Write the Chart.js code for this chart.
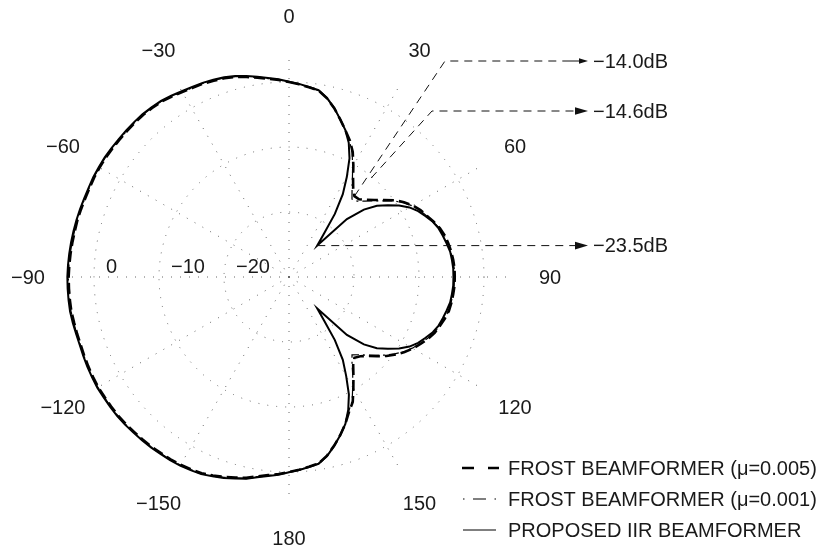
<!DOCTYPE html>
<html><head><meta charset="utf-8">
<script src="https://cdn.jsdelivr.net/npm/chart.js@4.4.1/dist/chart.umd.min.js"></script>
<style>html,body{margin:0;padding:0;background:#fff;}canvas{display:block;}</style>
</head><body>
<canvas id="c" width="823" height="549"></canvas>
<script>
// Angles (degrees, clockwise from top), 3-degree steps
const ANGLES = [0,3,6,9,12,15,18,21,24,27,30,33,36,39,42,45,48,51,54,57,60,63,66,69,72,75,78,81,84,87,
 90,93,96,99,102,105,108,111,114,117,120,123,126,129,132,135,138,141,144,147,150,153,156,159,162,165,168,171,174,177,
 180,183,186,189,192,195,198,201,204,207,210,213,216,219,222,225,228,231,234,237,240,243,246,249,252,255,258,261,264,267,
 270,273,276,279,282,285,288,291,294,297,300,303,306,309,312,315,318,321,324,327,330,333,336,339,342,345,348,351,354,357];

// Beam patterns in dB
const FROST_005 = [
 0.0,-0.3,-0.65,-0.95,-1.9,-3.1,-4.5,-5.8,-7.0,-8.4,
 -10.2,-11.9,-13.2,-14.0,-13.9,-13.2,-12.3,-11.2,-9.9,-8.9,
 -8.0,-7.3,-6.8,-6.2,-5.6,-5.2,-4.95,-4.75,-4.6,-4.5,
 -4.5,-4.5,-4.6,-4.7,-4.85,-5.2,-5.6,-6.0,-6.6,-7.3,
 -8.0,-8.8,-9.7,-10.7,-11.8,-12.8,-13.6,-14.0,-13.2,-11.8,
 -10.2,-8.4,-7.3,-5.8,-4.45,-3.15,-1.9,-0.95,-0.65,-0.3,
 0.0,0.35,0.65,1.05,1.6,1.95,2.35,2.7,3.05,3.2,
 3.35,3.45,3.5,3.6,3.65,3.7,3.8,3.85,3.85,3.85,
 3.9,3.85,3.8,3.75,3.7,3.75,3.8,3.9,3.9,3.9,
 3.9,3.85,3.8,3.75,3.7,3.7,3.65,3.6,3.6,3.65,
 3.65,3.65,3.6,3.55,3.55,3.55,3.55,3.45,3.35,3.1,
 2.85,2.65,2.55,2.35,2.15,1.85,1.45,1.05,0.65,0.35];
const FROST_001 = [
 0.0,-0.3,-0.65,-0.95,-1.9,-3.1,-4.5,-5.8,-7.1,-8.6,
 -10.4,-12.1,-13.5,-14.6,-14.3,-13.5,-12.5,-11.4,-10.1,-9.0,
 -8.1,-7.4,-6.85,-6.25,-5.65,-5.25,-5.0,-4.8,-4.65,-4.55,
 -4.55,-4.55,-4.65,-4.75,-4.9,-5.25,-5.65,-6.05,-6.7,-7.4,
 -8.1,-8.9,-9.9,-10.9,-12.0,-13.0,-13.9,-14.6,-13.5,-12.0,
 -10.4,-8.6,-7.4,-5.85,-4.5,-3.15,-1.9,-0.95,-0.65,-0.3,
 0.0,0.4,0.7,1.1,1.65,2.0,2.4,2.75,3.1,3.25,
 3.4,3.5,3.55,3.65,3.7,3.75,3.85,3.9,3.9,3.9,
 3.95,3.9,3.85,3.8,3.75,3.8,3.85,3.95,3.95,3.95,
 3.95,3.9,3.85,3.8,3.75,3.75,3.7,3.65,3.65,3.7,
 3.7,3.7,3.65,3.6,3.6,3.6,3.6,3.5,3.4,3.15,
 2.9,2.7,2.6,2.4,2.2,1.9,1.5,1.1,0.7,0.4];
const IIR = [
 0.05,-0.25,-0.6,-0.9,-1.85,-3.1,-4.5,-5.8,-7.4,-9.5,
 -12.2,-14.8,-18.0,-21.5,-23.5,-17.4,-14.5,-12.6,-11.2,-9.8,
 -8.6,-7.7,-7.0,-6.3,-5.8,-5.5,-5.2,-4.9,-4.8,-4.7,
 -4.7,-4.7,-4.8,-4.9,-5.2,-5.5,-5.8,-6.3,-7.0,-7.7,
 -8.6,-9.8,-11.2,-12.6,-14.5,-17.4,-23.5,-21.5,-18.0,-14.8,
 -12.4,-9.7,-7.6,-5.8,-4.45,-3.1,-1.85,-0.9,-0.6,-0.25,
 0.05,0.45,0.8,1.2,1.75,2.1,2.5,2.85,3.2,3.35,
 3.5,3.6,3.65,3.75,3.8,3.85,3.95,4.0,4.0,4.0,
 4.05,4.0,3.95,3.9,3.85,3.9,4.0,4.1,4.1,4.1,
 4.1,4.05,4.0,3.95,3.9,3.85,3.8,3.75,3.75,3.8,
 3.8,3.8,3.75,3.7,3.7,3.7,3.7,3.6,3.5,3.25,
 3.0,2.8,2.7,2.5,2.3,2.0,1.6,1.2,0.8,0.45];

const SERIES_NAMES = ['FROST BEAMFORMER (\u03bc=0.005)', 'FROST BEAMFORMER (\u03bc=0.001)', 'PROPOSED IIR BEAMFORMER'];
const RING_TICKS = [0, -10, -20, -30];
const RING_LABELS = [0, -10, -20];
const ANGLE_TICKS = [0, 30, 60, 90, 120, 150, 180, -150, -120, -90, -60, -30];
const NULL_LABELS = ['\u221214.0dB', '\u221214.6dB', '\u221223.5dB'];
const R_MIN = -30, R_MAX = 4;

const FONT = '20px "Liberation Sans", Arial, Helvetica, sans-serif';
const TEXT = '#1a1a1a';
const GRID = '#666666';
function minusify(v) { return v < 0 ? '\u2212' + Math.abs(v) : String(v); }

function arrowHead(ctx, tipX, y, len, half) {
  ctx.beginPath();
  ctx.moveTo(tipX, y);
  ctx.lineTo(tipX - len, y - half);
  ctx.lineTo(tipX - len, y + half);
  ctx.closePath();
  ctx.fill();
}

const polarDecor = {
  id: 'polarDecor',
  afterDraw(chart) {
    const ctx = chart.ctx, s = chart.scales.r;
    const cx = s.xCenter, cy = s.yCenter;
    ctx.save();
    ctx.font = FONT;
    ctx.fillStyle = TEXT;
    ctx.textBaseline = 'middle';
    // radial tick labels along the left horizontal axis
    ctx.textAlign = 'left';
    RING_LABELS.forEach(v => {
      const r = s.getDistanceFromCenterForValue(v);
      ctx.fillText(minusify(v), cx - r + 12, cy - 9.5);
    });
    // angle labels
    ctx.textAlign = 'center';
    const step = 360 / ANGLES.length;
    ANGLE_TICKS.forEach(a => {
      const idx = Math.round(((a + 360) % 360) / step);
      const p = s.getPointPosition(idx, s.drawingArea + 40);
      ctx.fillText(minusify(a), p.x, p.y + 1);
    });

    // annotations
    ctx.strokeStyle = '#111';
    ctx.fillStyle = '#111';
    ctx.lineWidth = 1;
    const headTip = cx + 299, textX = cx + 304;
    const i1 = FROST_005.indexOf(Math.min(...FROST_005));
    const i2 = FROST_001.indexOf(Math.min(...FROST_001));
    const i3 = IIR.indexOf(Math.min(...IIR));
    const n1 = s.getPointPositionForValue(i1, FROST_005[i1]);
    const n2 = s.getPointPositionForValue(i2, FROST_001[i2]);
    const n3 = s.getPointPositionForValue(i3, IIR[i3]);
    const e1 = {x: cx + 156, y: cy - 216};
    const e2 = {x: cx + 143, y: cy - 166};
    const s2 = {x: e2.x + 0.76 * (n2.x - e2.x), y: e2.y + 0.76 * (n2.y - e2.y)};
    ctx.setLineDash([8, 6]);
    ctx.beginPath();
    ctx.moveTo(n1.x, n1.y); ctx.lineTo(e1.x, e1.y); ctx.lineTo(headTip - 20, e1.y);
    ctx.moveTo(s2.x, s2.y); ctx.lineTo(e2.x, e2.y); ctx.lineTo(headTip - 13, e2.y);
    ctx.moveTo(n3.x, n3.y); ctx.lineTo(headTip - 13, n3.y);
    ctx.stroke();
    ctx.setLineDash([]);
    ctx.beginPath();
    ctx.moveTo(headTip - 20, e1.y); ctx.lineTo(headTip - 8, e1.y);
    ctx.stroke();
    arrowHead(ctx, headTip, e1.y, 9, 2.8);
    arrowHead(ctx, headTip, e2.y, 13, 3.8);
    arrowHead(ctx, headTip, n3.y, 13, 3.8);
    ctx.fillStyle = TEXT;
    ctx.textAlign = 'left';
    ctx.fillText(NULL_LABELS[0], textX, e1.y + 1);
    ctx.fillText(NULL_LABELS[1], textX, e2.y + 1);
    ctx.fillText(NULL_LABELS[2], textX, n3.y + 1);

    // legend
    const lx0 = 462, lx1 = 499, tx = 508;
    const rows = [468, 499, 530];
    ctx.strokeStyle = '#000';
    ctx.lineWidth = 2.6; ctx.setLineDash([12, 14]);
    ctx.beginPath(); ctx.moveTo(lx0, rows[0]); ctx.lineTo(lx1, rows[0]); ctx.stroke();
    ctx.lineWidth = 1.1; ctx.setLineDash([1.5, 8.5, 13, 8.5]);
    ctx.beginPath(); ctx.moveTo(lx0 + 1, rows[1]); ctx.lineTo(lx1 - 2, rows[1]); ctx.stroke();
    ctx.lineWidth = 1; ctx.setLineDash([]);
    ctx.beginPath(); ctx.moveTo(lx0 + 1, rows[2]); ctx.lineTo(lx1 - 3, rows[2]); ctx.stroke();
    ctx.fillStyle = TEXT;
    SERIES_NAMES.forEach((n, k) => ctx.fillText(n, tx, rows[k] + 1));
    ctx.restore();
  }
};

new Chart(document.getElementById('c'), {
  type: 'radar',
  data: {
    labels: ANGLES,
    datasets: [
      { label: SERIES_NAMES[0], data: FROST_005, borderColor: '#000', borderWidth: 2.6, borderDash: [11, 5], pointRadius: 0, fill: false, clip: false, order: 1 },
      { label: SERIES_NAMES[1], data: FROST_001, borderColor: '#000', borderWidth: 1.2, borderDash: [10, 4, 2, 4], pointRadius: 0, fill: false, clip: false, order: 2 },
      { label: SERIES_NAMES[2], data: IIR, borderColor: '#000', borderWidth: 2, pointRadius: 0, fill: false, clip: false, order: 0 }
    ]
  },
  options: {
    responsive: false,
    animation: false,
    events: [],
    layout: { padding: { left: 68, top: 56, right: 313, bottom: 51 } },
    elements: { line: { tension: 0 } },
    plugins: { legend: { display: false }, tooltip: { enabled: false } },
    scales: {
      r: {
        min: R_MIN, max: R_MAX,
        startAngle: 0,
        afterBuildTicks: (axis) => { axis.ticks = RING_TICKS.slice().reverse().map(v => ({ value: v })); },
        ticks: { display: false },
        pointLabels: { display: false },
        grid: { circular: true, color: GRID, lineWidth: 1, borderDash: [1, 8] },
        border: { dash: [1, 8] },
        angleLines: {
          display: true, color: GRID, borderDash: [1, 8],
          lineWidth: (c) => (c.index % 10 === 0 ? 1 : 0)
        }
      }
    }
  },
  plugins: [polarDecor]
});
</script>
</body></html>
